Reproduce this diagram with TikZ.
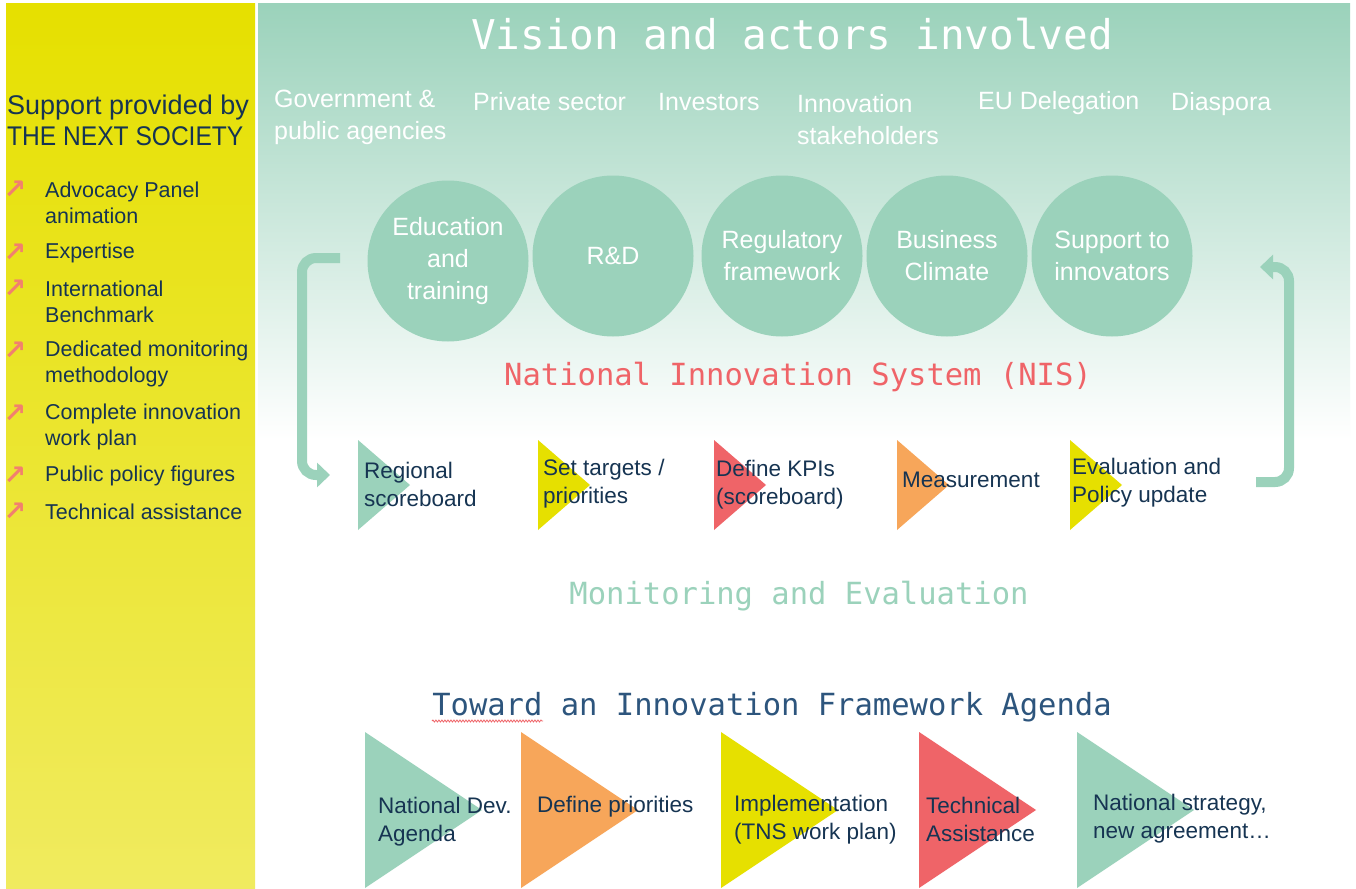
\documentclass[tikz,border=0pt]{standalone}
\usepackage{fontspec}
\setmainfont{Liberation Sans}
\setmonofont{DejaVu Sans Mono}
\newfontfamily\symbfont{DejaVu Sans}
\usetikzlibrary{arrows.meta,decorations.pathmorphing}

\definecolor{tnsteal}{RGB}{155,210,187}
\definecolor{tnsyellow}{RGB}{230,224,0}
\definecolor{tnspale}{RGB}{240,235,95}
\definecolor{tnsorange}{RGB}{247,166,90}
\definecolor{tnsred}{RGB}{239,100,104}
\definecolor{tnsnavy}{RGB}{22,52,82}
\definecolor{tnsblue}{RGB}{45,85,125}
\definecolor{tnssalmon}{RGB}{242,128,110}

\begin{document}
\begin{tikzpicture}[x=1pt, y=-1pt,
        loop arrow/.style={-{Triangle[width=24pt,length=13pt]}, line width=10pt, draw=tnsteal, rounded corners=14pt},
        pillar/.style={circle, fill=tnsteal, minimum size=161pt, inner sep=0pt, text=white, align=center, font=\fontsize{25}{32}\selectfont},
        actor/.style={anchor=west, text=white, align=left, inner sep=0pt, font=\fontsize{25}{32}\selectfont},
        step label/.style={anchor=west, text=tnsnavy, align=left, inner sep=0pt, font=\fontsize{22.5}{28}\selectfont},
        support item/.style={anchor=west, text=tnsnavy, align=left, inner sep=0pt, font=\fontsize{21.5}{26}\selectfont},
        bullet/.style={text=tnssalmon, inner sep=0pt, font=\symbfont\bfseries\fontsize{27}{27}\selectfont},
        heading/.style={inner sep=0pt, font=\ttfamily\fontsize{30.5}{30.5}\selectfont}]

    % Background panels
    \useasboundingbox (0,0) rectangle (1356,888);
    \fill[white] (0,0) rectangle (1356,888);
    \shade[top color=tnsyellow, bottom color=tnspale] (6,4) rectangle (255,888);
    \shade[top color=tnsteal, bottom color=white] (258,4) rectangle (1350,440);

    % Support column
    \node[anchor=west, text=tnsnavy, align=left, inner sep=0pt, font=\fontsize{27}{31}\selectfont] (support) at (7,120) {Support provided by\\\scalebox{0.91}[1]{THE NEXT SOCIETY}};
    \node[support item] (s1) at (45,203) {Advocacy Panel\\animation};
    \node[support item] (s2) at (45,253) {Expertise};
    \node[support item] (s3) at (45,302) {International\\Benchmark};
    \node[support item] (s4) at (45,364) {Dedicated monitoring\\methodology};
    \node[support item] (s5) at (45,427) {Complete innovation\\work plan};
    \node[support item] (s6) at (45,476) {Public policy figures};
    \node[support item] (s7) at (45,512) {Technical assistance};
    \foreach \y [count=\i] in {190,253,289,351,414,476,512}
        \node[bullet] (b\i) at (15,\y) {↗};

    % Vision and actors
    \node[text=white, inner sep=0pt, font=\ttfamily\fontsize{41}{41}\selectfont] (vision) at (792,34) {Vision and actors involved};
    \node[actor] (gov) at (274,117) {Government \&\\public agencies};
    \node[actor] (private) at (473,102) {Private sector};
    \node[actor] (investors) at (658,102) {Investors};
    \node[actor] (stake) at (797,120) {Innovation\\stakeholders};
    \node[actor] (eu) at (978,103) {EU Delegation};
    \node[actor] (diaspora) at (1171,104) {Diaspora};

    % NIS pillars
    \node[pillar] (edu) at (448,261) {Education\\and\\training};
    \node[pillar] (rd) at (613,256) {R\&D};
    \node[pillar] (reg) at (782,256) {Regulatory\\framework};
    \node[pillar] (biz) at (947,256) {Business\\Climate};
    \node[pillar] (innov) at (1112,256) {Support to\\innovators};

    \node[heading, text=tnsred] (nis) at (798,377) {National Innovation System (NIS)};

    % Monitoring steps
    \foreach \x/\c in {358/tnsteal, 538/tnsyellow, 714/tnsred, 897/tnsorange, 1070/tnsyellow}
        \fill[\c] (\x,440) -- (\x+52,485) -- (\x,530) -- cycle;
    \node[step label] (m1) at (364,484) {Regional\\scoreboard};
    \node[step label] (m2) at (543,484) {Set targets /\\priorities};
    \node[step label] (m3) at (716,485) {Define KPIs\\(scoreboard)};
    \node[step label] (m4) at (902,480) {Measurement};
    \node[step label] (m5) at (1072,483) {Evaluation and\\Policy update};

    \coordinate (loopL) at (340,258);
    \coordinate (loopLend) at (330,475);
    \draw[loop arrow] (loopL) -- (302,258) -- (302,475) -- (loopLend);
    \coordinate (loopR) at (1256,482);
    \coordinate (loopRend) at (1260,267);
    \draw[loop arrow] (loopR) -- (1289,482) -- (1289,267) -- (loopRend);

    \node[heading, text=tnsteal] (monitor) at (799,596) {Monitoring and Evaluation};

    % Framework agenda
    \node[heading, text=tnsblue] (agenda) at (772,707) {Toward an Innovation Framework Agenda};
    \draw[tnsred, line width=0.8pt, decorate, decoration={snake, amplitude=1pt, segment length=3pt}] (432,721) -- (543,721);

    \foreach \x/\c in {365/tnsteal, 521/tnsorange, 721/tnsyellow, 919/tnsred, 1077/tnsteal}
        \fill[\c] (\x,732) -- (\x+117,810) -- (\x,888) -- cycle;
    \node[step label] (a1) at (378,822) {National Dev.\\Agenda};
    \node[step label] (a2) at (537,807) {Define priorities};
    \node[step label] (a3) at (734,820) {Implementation\\(TNS work plan)};
    \node[step label] (a4) at (926,819) {Technical\\Assistance};
    \node[step label] (a5) at (1093,819) {National strategy,\\new agreement…};
\end{tikzpicture}
\end{document}
